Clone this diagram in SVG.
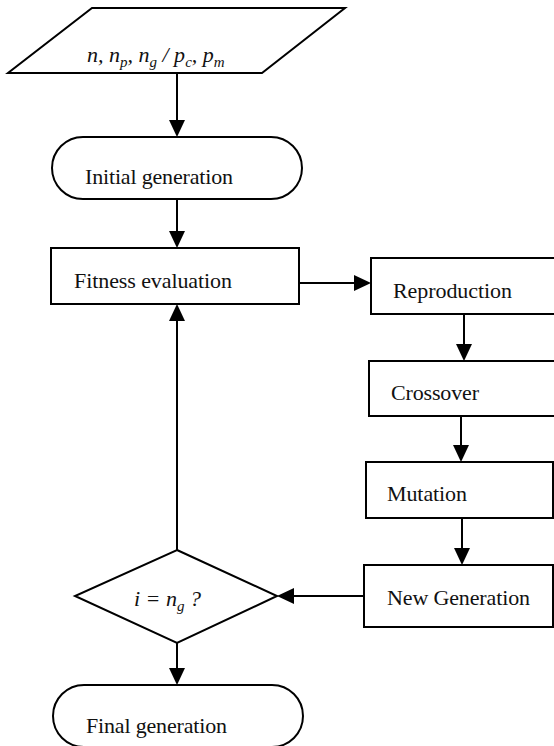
<svg xmlns="http://www.w3.org/2000/svg" width="554" height="746" viewBox="0 0 554 746">
<style>
.s{fill:#fff;stroke:#000;stroke-width:2}
.t{font-family:"Liberation Serif","Times New Roman",serif;font-size:22px;fill:#111}
.i{font-style:italic}
.sub{font-size:15px}
.c{fill:none;stroke:#000;stroke-width:2}
.h{fill:#000}
</style>
<rect width="554" height="746" fill="#fff"/>
<g id="connectors">
<line class="c" x1="177" y1="73" x2="177" y2="122"/>
<line class="c" x1="177" y1="199" x2="177" y2="233"/>
<line class="c" x1="296" y1="283" x2="356" y2="283"/>
<line class="c" x1="464" y1="314" x2="464" y2="346"/>
<line class="c" x1="461" y1="416" x2="461" y2="447"/>
<line class="c" x1="462" y1="518" x2="462" y2="550"/>
<line class="c" x1="364" y1="596" x2="292" y2="596"/>
<line class="c" x1="177" y1="643" x2="177" y2="670"/>
<line class="c" x1="177" y1="550" x2="177" y2="318"/>
<path class="h" d="M169,120 L185,120 L177,137 Z"/>
<path class="h" d="M169,231 L185,231 L177,248 Z"/>
<path class="h" d="M354,275 L354,291 L371,283 Z"/>
<path class="h" d="M456,344 L472,344 L464,361 Z"/>
<path class="h" d="M453,445 L469,445 L461,462 Z"/>
<path class="h" d="M454,548 L470,548 L462,565 Z"/>
<path class="h" d="M294,588 L294,604 L277,596 Z"/>
<path class="h" d="M169,668 L185,668 L177,685 Z"/>
<path class="h" d="M169,321 L185,321 L177,304 Z"/>
</g>
<g id="input">
<polygon class="s" points="92,8 345,8 262,73 8,73"/>
<text class="t i" x="87" y="62">n, n<tspan class="sub" dy="5">p</tspan><tspan dy="-5">, n</tspan><tspan class="sub" dy="5">g</tspan><tspan dy="-5"> / p</tspan><tspan class="sub" dy="5">c</tspan><tspan dy="-5">, p</tspan><tspan class="sub" dy="5">m</tspan></text>
</g>
<g id="initial">
<rect class="s" x="52" y="137" width="250" height="62" rx="31" ry="31"/>
<text class="t" x="85" y="184" textLength="148">Initial generation</text>
</g>
<g id="fitness">
<rect class="s" x="51" y="248" width="248" height="56"/>
<text class="t" x="74" y="288" textLength="158">Fitness evaluation</text>
</g>
<g id="reproduction">
<rect class="s" x="371" y="258" width="190" height="56"/>
<text class="t" x="393" y="298" textLength="119">Reproduction</text>
</g>
<g id="crossover">
<rect class="s" x="369" y="361" width="190" height="55"/>
<text class="t" x="391" y="400" textLength="88">Crossover</text>
</g>
<g id="mutation">
<rect class="s" x="366" y="462" width="187" height="56"/>
<text class="t" x="387" y="501" textLength="80">Mutation</text>
</g>
<g id="newgen">
<rect class="s" x="364" y="565" width="189" height="62"/>
<text class="t" x="387" y="605" textLength="143">New Generation</text>
</g>
<g id="decision">
<polygon class="s" points="177,550 277,596 177,643 75,596"/>
<text class="t i" x="134" y="606">i = n<tspan class="sub" dy="5">g</tspan><tspan dy="-5"> ?</tspan></text>
</g>
<g id="final">
<rect class="s" x="53" y="685" width="250" height="62" rx="31" ry="31"/>
<text class="t" x="86" y="733" textLength="141">Final generation</text>
</g>
</svg>
